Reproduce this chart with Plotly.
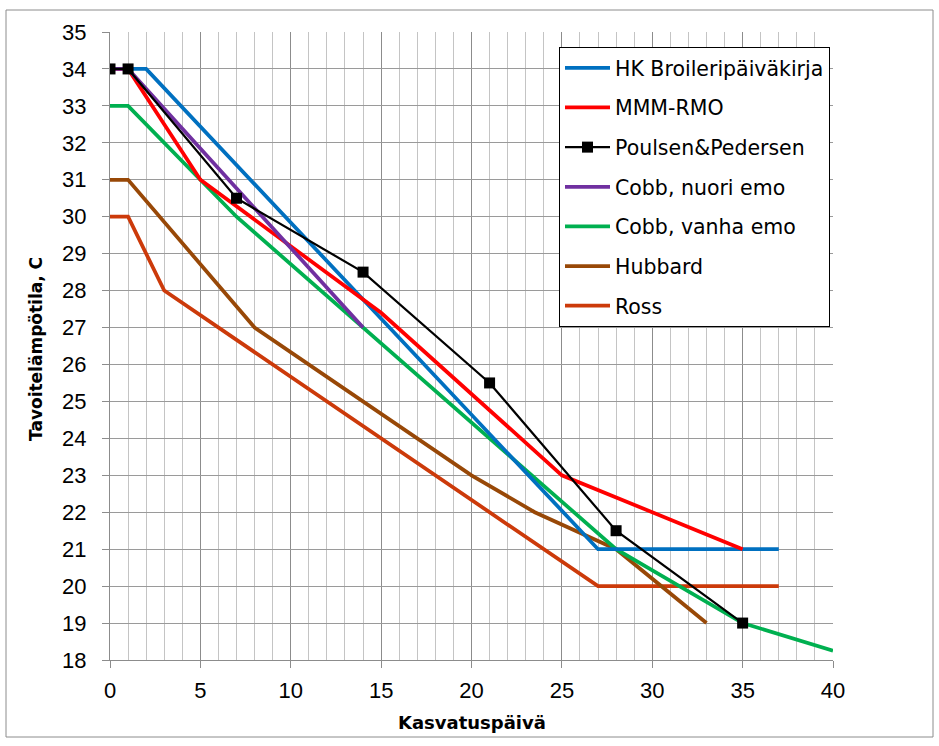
import plotly.graph_objects as go

# ---- data ----
hk_x = [0, 2, 27, 37]
hk_y = [34, 34, 21, 21]

mmm_x = [0, 1, 5, 15, 25, 35]
mmm_y = [34, 34, 31, 27.4, 23, 21]

pp_x = [0, 1, 7, 14, 21, 28, 35]
pp_y = [34, 34, 30.5, 28.5, 25.5, 21.5, 19]

cobb_n_x = [0, 1, 14]
cobb_n_y = [34, 34, 27]

cobb_v_x = [0, 1, 7, 14, 21, 28, 35, 40]
cobb_v_y = [33, 33, 30, 27, 24, 21, 19, 18.25]

hub_x = [0, 1, 8, 20, 23.5, 28, 33]
hub_y = [31, 31, 27, 23, 22, 21, 19]

ross_x = [0, 1, 3, 27, 37]
ross_y = [30, 30, 28, 20, 20]

x_ticks = [0, 5, 10, 15, 20, 25, 30, 35, 40]
y_ticks = list(range(18, 36))

x_title = "Kasvatuspäivä"
y_title = "Tavoitelämpötila, C"

FONT = "DejaVu Sans"
TICKFONT = "Liberation Sans"

series = [
    ("HK Broileripäiväkirja", hk_x, hk_y, "#0070C0", 3.75, False),
    ("MMM-RMO", mmm_x, mmm_y, "#FF0000", 3.75, False),
    ("Poulsen&Pedersen", pp_x, pp_y, "#000000", 2.2, True),
    ("Cobb, nuori emo", cobb_n_x, cobb_n_y, "#7030A0", 3.75, False),
    ("Cobb, vanha emo", cobb_v_x, cobb_v_y, "#00B050", 3.75, False),
    ("Hubbard", hub_x, hub_y, "#984807", 3.75, False),
    ("Ross", ross_x, ross_y, "#CC3A0A", 3.75, False),
]

fig = go.Figure()
order = [6, 5, 4, 0, 1, 3, 2]
for i in order:
    name, xs, ys, col, w, mk = series[i]
    fig.add_trace(go.Scatter(
        x=xs, y=ys, name=name, legendgroup=name, legendrank=i + 1,
        mode="lines+markers" if mk else "lines",
        line=dict(color=col, width=w),
        marker=dict(symbol="square", size=11, color=col) if mk else None,
    ))

W, H = 939, 746
L, R, T, B = 110, 106, 32, 86
pw, ph = W - L - R, H - T - B

def px_x(p):
    return (p - L) / pw

def px_y(p):
    return (H - B - p) / ph

fig.update_layout(
    width=W, height=H,
    margin=dict(l=L, r=R, t=T, b=B),
    paper_bgcolor="white", plot_bgcolor="white",
    font=dict(family=FONT, size=17, color="#000000"),
    showlegend=True,
    legend=dict(
        x=px_x(559), y=px_y(47), xanchor="left", yanchor="top",
        bgcolor="white", bordercolor="#000000", borderwidth=1,
        font=dict(family=FONT, size=20.5, color="#000000"),
        traceorder="grouped", tracegroupgap=10,
        itemwidth=45,
    ),
    xaxis=dict(
        range=[0, 40], tickvals=x_ticks, ticktext=[str(v) for v in x_ticks],
        showgrid=True, gridcolor="#8C8C8C", gridwidth=1,
        minor=dict(dtick=1, tick0=0, showgrid=True, gridcolor="#C4C4C4", gridwidth=1),
        ticks="outside", ticklen=7, tickcolor="#8C8C8C",
        ticklabelstandoff=4,
        showline=True, linecolor="#8C8C8C", linewidth=1,
        zeroline=False,
        tickfont=dict(family=TICKFONT, size=22),
    ),
    yaxis=dict(
        range=[18, 35], tickvals=y_ticks, ticktext=[str(v) for v in y_ticks],
        showgrid=True, gridcolor="#9A9A9A", gridwidth=1,
        ticks="outside", ticklen=7, tickcolor="#8C8C8C",
        ticklabelstandoff=11,
        showline=True, linecolor="#8C8C8C", linewidth=1,
        zeroline=False,
        tickfont=dict(family=TICKFONT, size=22),
    ),
    annotations=[
        dict(text="<b>" + x_title + "</b>", xref="paper", yref="paper",
             x=0.5, y=px_y(722), xanchor="center", yanchor="middle",
             showarrow=False, font=dict(family=FONT, size=18)),
        dict(text="<b>" + y_title + "</b>", xref="paper", yref="paper",
             x=px_x(36), y=px_y(349), xanchor="center", yanchor="middle",
             textangle=-90, showarrow=False, font=dict(family=FONT, size=17)),
    ],
    shapes=[dict(
        type="rect", xref="paper", yref="paper",
        x0=px_x(6), x1=px_x(933), y0=px_y(737), y1=px_y(10),
        line=dict(color="#8C8C8C", width=1), fillcolor="rgba(0,0,0,0)", layer="below",
    )],
)

fig.write_html("out.html")
